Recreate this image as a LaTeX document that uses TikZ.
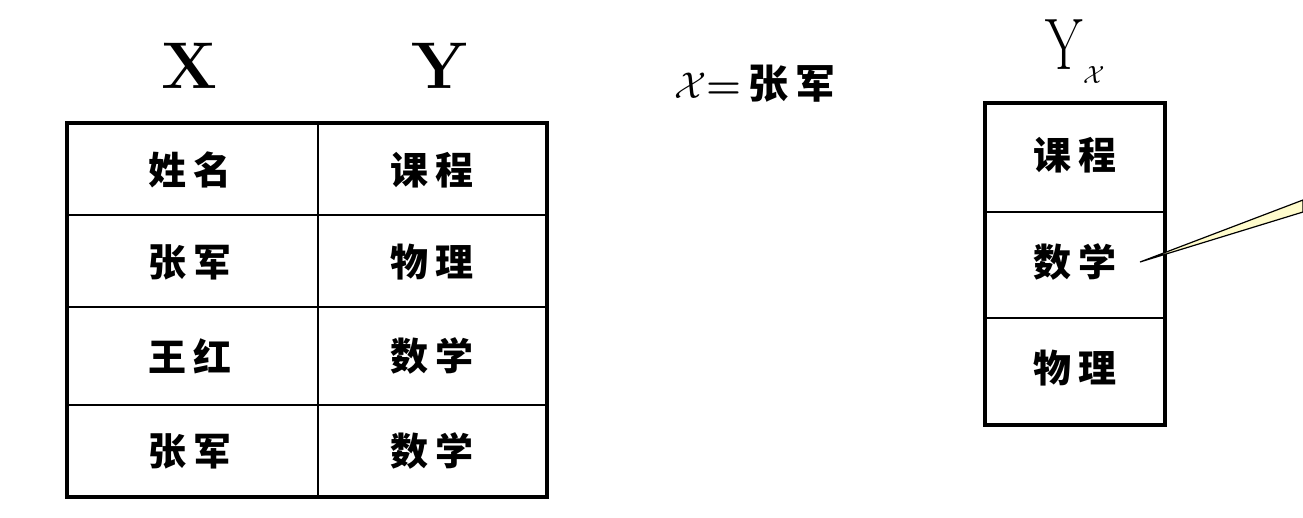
\documentclass[tikz,border=0pt]{standalone}
\usepackage{fontspec}
\newfontfamily\cjk{Noto Sans CJK SC}
\usepackage{amsmath}

\tikzset{
  cell/.style={font=\cjk\bfseries\fontsize{38}{40}\selectfont},
  head/.style={font=\bfseries\fontsize{66}{68}\selectfont}
}

\begin{document}
\begin{tikzpicture}[x=1pt,y=-1pt]
        \useasboundingbox (0,0) rectangle (1303,517);
        % Left table
        \draw[line width=4.5pt] (67,123) rectangle (547,497);
        \draw[line width=2.5pt] (318,123) -- (318,497);
        \draw[line width=2.5pt] (67,215) -- (547,215);
        \draw[line width=2.5pt] (67,307) -- (547,307);
        \draw[line width=2.5pt] (67,405) -- (547,405);
        \node[head] (X) at (190,66) {X};
        \node[head] (Y) at (440,66) {Y};
        \node[cell] (n0) at (190,170) {姓\,名};
        \node[cell] (c0) at (432,170) {课\,程};
        \node[cell] (n1) at (190,262) {张\,军};
        \node[cell] (c1) at (432,262) {物\,理};
        \node[cell] (n2) at (190,356) {王\,红};
        \node[cell] (c2) at (432,356) {数\,学};
        \node[cell] (n3) at (190,451) {张\,军};
        \node[cell] (c3) at (432,451) {数\,学};

        % Condition
        \node[font=\fontsize{40}{44}\selectfont] (cond) at (755,84) {\scalebox{1.5}{$\mathcal{X}$}\textbf{=}\,{\cjk\bfseries 张\,军}};

        % Right table
        \draw[line width=4.5pt] (985,103) rectangle (1165,425);
        \draw[line width=2.5pt] (985,212) -- (1165,212);
        \draw[line width=2.5pt] (985,318) -- (1165,318);
        \node[font=\fontsize{54}{56}\selectfont] (Yx) at (1075,52) {\scalebox{1}[1.35]{Y}\raisebox{-14pt}{\fontsize{40}{42}\selectfont$\mathcal{X}$}};
        \node[cell] (r0) at (1075,155) {课\,程};
        \node[cell] (r1) at (1075,262) {数\,学};
        \node[cell] (r2) at (1075,368) {物\,理};

        % Callout
        \coordinate (tip) at (1140,262);
        \filldraw[fill=yellow!20, line width=1.2pt] (tip) -- (1303,200) -- (1303,212) -- cycle;
    \end{tikzpicture}
\end{document}
